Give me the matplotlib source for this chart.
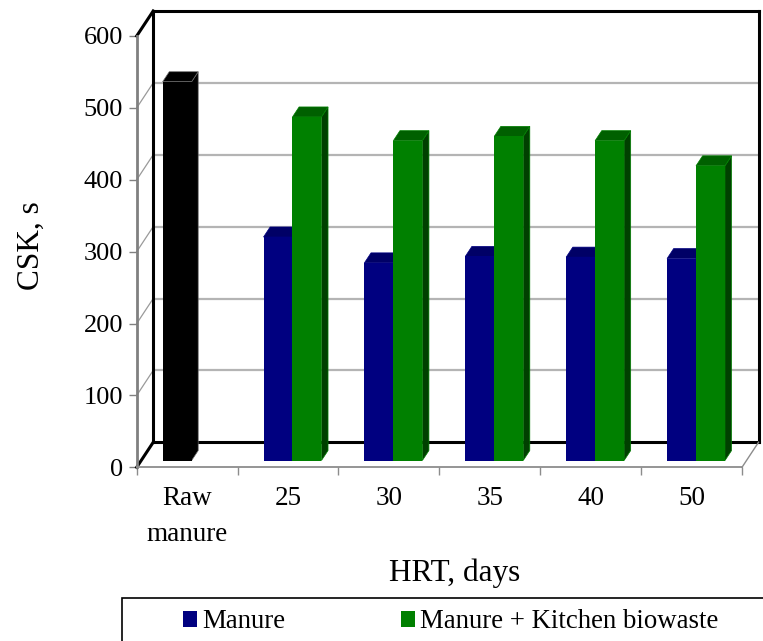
import matplotlib
matplotlib.use("Agg")
import numpy as np
import matplotlib.pyplot as plt
from matplotlib.patches import Polygon, Rectangle, Patch

# ---- data -------------------------------------------------------------
categories = ["Raw\nmanure", "25", "30", "35", "40", "50"]
manure = [527, 311, 275, 284, 283, 281]
manure_kitchen = [np.nan, 478, 445, 451, 445, 410]
y_ticks = [0, 100, 200, 300, 400, 500, 600]
series_names = ["Manure", "Manure + Kitchen biowaste"]

# ---- style ------------------------------------------------------------
plt.rcParams["font.family"] = ["Liberation Serif", "DejaVu Serif"]
FS_Y = 19.0      # value tick labels
FS_X = 19.5      # category labels
FS_LEG = 19.3    # legend
FS_TITLE = 22.5  # axis titles
W, H = 763, 641

# face colours: front, top, side
navy = ("#000080", "#000066", "#00004d")
green = ("#008000", "#006000", "#004000")
black = ("#000000", "#000000", "#000000")

fig = plt.figure(figsize=(W / 100, H / 100), dpi=100)

# front plane of the 3-D box (pixel extents of the plot area)
left_px, right_px, top_px, bot_px = 136.7, 742.0, 36.0, 467.3
ax = fig.add_axes([left_px / W, (H - bot_px) / H,
                   (right_px - left_px) / W, (bot_px - top_px) / H])
ax.set_xlim(-0.5, len(categories) - 0.5)
ax.set_ylim(0, 600)

# depth vector of the box, converted from screen pixels to data units
p0 = ax.transData.transform((0.0, 0.0))
ddx, ddy = ax.transData.inverted().transform(p0 + np.array([16.5, 25.0]))


def at(x, y, t):
    """Point (x, y) pushed t of the way back into the box."""
    return (x + t * ddx, y + t * ddy)


x_lo, x_hi = -0.5, len(categories) - 0.5

# back wall
ax.add_patch(Polygon([at(x_lo, 0, 1), at(x_hi, 0, 1), at(x_hi, 600, 1), at(x_lo, 600, 1)],
                     closed=True, facecolor="white", edgecolor="none", zorder=1, clip_on=False))
for v in y_ticks[1:-1]:
    # gridline on back wall
    ax.plot([at(x_lo, v, 1)[0], at(x_hi, v, 1)[0]], [at(x_lo, v, 1)[1], at(x_hi, v, 1)[1]],
            color="#b4b4b4", lw=1.6, zorder=2, clip_on=False, solid_capstyle="butt")
    # gridline on left wall
    ax.plot([x_lo, at(x_lo, v, 1)[0]], [v, at(x_lo, v, 1)[1]],
            color="#9a9a9a", lw=0.9, zorder=2, clip_on=False)

# box outline (black heavy edges)
edges_black = [
    [at(x_lo, 0, 1), at(x_hi, 0, 1)],
    [at(x_lo, 0, 1), at(x_lo, 600, 1)],
    [at(x_lo, 600, 1), at(x_hi, 600, 1)],
    [at(x_hi, 600, 1), at(x_hi, 0, 1)],
    [at(x_lo, 0, 0), at(x_lo, 0, 1)],
    [at(x_lo, 600, 0), at(x_lo, 600, 1)],
]
for (a, b) in edges_black:
    ax.plot([a[0], b[0]], [a[1], b[1]], color="black", lw=2.2, zorder=3,
            clip_on=False, solid_capstyle="projecting")
# right floor edge (thin grey)
a, b = at(x_hi, 0, 0), at(x_hi, 0, 1)
ax.plot([a[0], b[0]], [a[1], b[1]], color="#8c8c8c", lw=1.0, zorder=3, clip_on=False)

# ---- bars ---------------------------------------------------------------
t_front, t_back = 0.27, 0.67
bw = 0.287


def bar3d(x0, v, cols, z):
    x1 = x0 + bw
    side = [at(x1, 0, t_front), at(x1, 0, t_back), at(x1, v, t_back), at(x1, v, t_front)]
    top = [at(x0, v, t_front), at(x1, v, t_front), at(x1, v, t_back), at(x0, v, t_back)]
    front = [at(x0, 0, t_front), at(x1, 0, t_front), at(x1, v, t_front), at(x0, v, t_front)]
    edge = "#6a6a6a" if cols is black else cols[0]
    ax.add_patch(Polygon(side, closed=True, facecolor=cols[2], edgecolor=edge,
                         lw=0.5, zorder=z, clip_on=False))
    ax.add_patch(Polygon(top, closed=True, facecolor=cols[1], edgecolor=edge,
                         lw=0.5, zorder=z, clip_on=False))
    ax.add_patch(Polygon(front, closed=True, facecolor=cols[0], edgecolor="none",
                         lw=0, zorder=z + 0.01, clip_on=False))


for i in range(len(categories)):
    z = 5 + i
    if not np.isnan(manure[i]):
        bar3d(i - bw, manure[i], black if i == 0 else navy, z)
    if not np.isnan(manure_kitchen[i]):
        bar3d(i, manure_kitchen[i], green, z + 0.1)

# ---- front axes -----------------------------------------------------------
for s in ("top", "right"):
    ax.spines[s].set_visible(False)
ax.spines["left"].set_color("#808080")
ax.spines["left"].set_linewidth(2.0)
ax.spines["bottom"].set_color("#8c8c8c")
ax.spines["bottom"].set_linewidth(1.3)
for s in ("left", "bottom"):
    ax.spines[s].set_zorder(20)
ax.set_facecolor("none")

ax.set_yticks(y_ticks)
ax.set_yticklabels([str(v) for v in y_ticks], fontsize=FS_Y)
ax.tick_params(axis="y", direction="out", length=5.8, width=1.0, color="#808080", pad=4.0)

ax.set_xticks(np.arange(-0.5, len(categories), 1.0))
ax.set_xticklabels([])
ax.tick_params(axis="x", which="major", direction="out", length=5.8, width=1.0, color="#8c8c8c")
ax.set_xticks(np.arange(len(categories)), minor=True)
ax.set_xticklabels(categories, minor=True, fontsize=FS_X, linespacing=1.6)
ax.tick_params(axis="x", which="minor", length=0, pad=13.5)

fig.text(455 / W, 1 - 573 / H, "HRT, days", ha="center", va="center", fontsize=FS_TITLE)
fig.text(31 / W, 1 - 246 / H, "CSK, s", ha="center", va="center", rotation=90, fontsize=FS_TITLE)

# ---- legend ---------------------------------------------------------------
fig.add_artist(Rectangle((122 / W, -0.05), (W + 20 - 122) / W, (1 - 598 / H) + 0.05,
                         transform=fig.transFigure, facecolor="none", edgecolor="black",
                         lw=1.2, clip_on=False))
handles = [Patch(facecolor=navy[0], edgecolor="none"), Patch(facecolor=green[0], edgecolor="none")]
fig.legend(handles, series_names, loc="center left", bbox_to_anchor=(183 / W, 1 - 622 / H),
           ncol=2, frameon=False, fontsize=FS_LEG, handlelength=0.52, handleheight=0.52,
           handletextpad=0.2, columnspacing=4.3, borderpad=0, borderaxespad=0)

fig.savefig("out.png", dpi=100)
